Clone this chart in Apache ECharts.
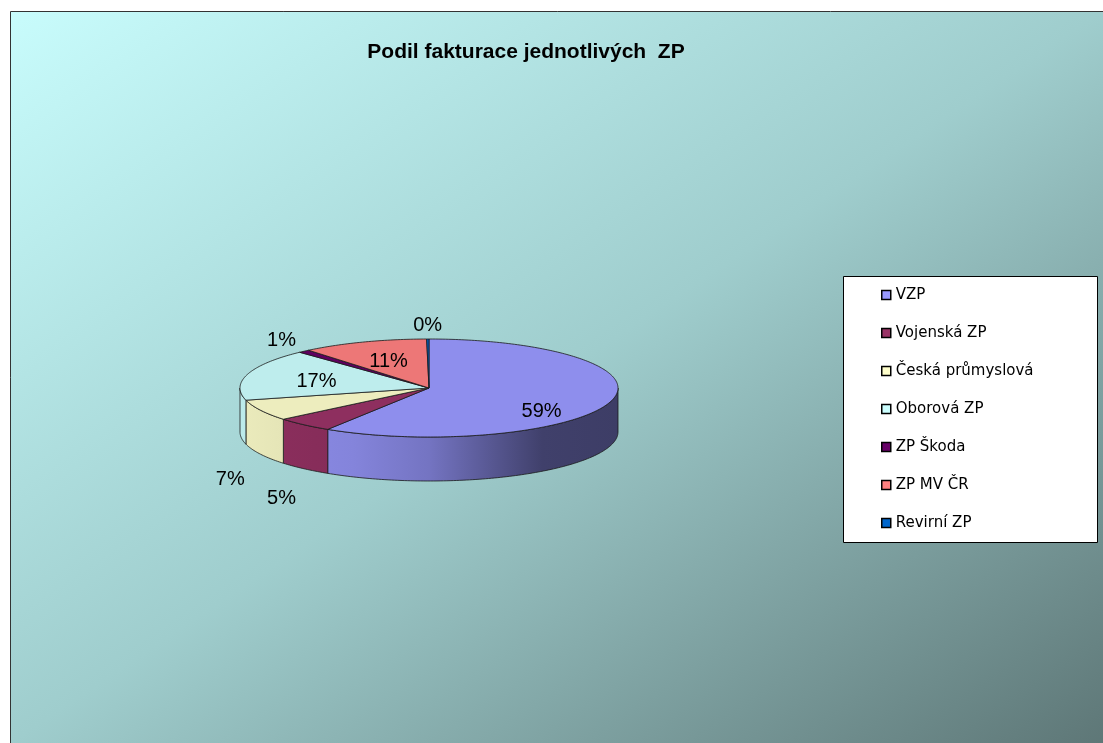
<!DOCTYPE html>
<html>
<head>
<meta charset="utf-8">
<title>Podil fakturace jednotlivých ZP</title>
<script src="https://cdn.jsdelivr.net/npm/echarts@6/dist/echarts.min.js"></script>
<style>
  html, body { margin: 0; padding: 0; background: #fff; }
  #chart { width: 1103px; height: 743px; }
</style>
</head>
<body>
<div id="chart"></div>
<script>
// podíly jednotlivých pojišťoven (%)
const categories = ["VZP", "Vojenská ZP", "Česká průmyslová", "Oborová ZP", "ZP Škoda", "ZP MV ČR", "Revirní ZP"];
const values = [59, 5, 7, 17, 1, 10.8, 0.2];
const colors = ["#9999ff", "#993366", "#ffffcc", "#ccffff", "#660066", "#ff8080", "#0066cc"];

const total = values.reduce((a, b) => a + b, 0);
const startAt = values.map((v, i) => values.slice(0, i).reduce((a, b) => a + b, 0));

// rozmery "3D" kolace v pixelech
const cx = 429, cy = 388, rx = 189, ry = 49, depth = 44;

function shade(hex, k) {
  const c = echarts.color.parse(hex);
  return "rgb(" + Math.round(c[0] * k) + "," + Math.round(c[1] * k) + "," + Math.round(c[2] * k) + ")";
}

// bod na elipse, uhel ve stupnich od 12 hodin po smeru hodin
function pt(deg, dy) {
  const r = deg * Math.PI / 180;
  return [cx + rx * Math.sin(r), cy - ry * Math.cos(r) + (dy || 0)];
}

function arc(a0, a1, dy) {
  const pts = [];
  const n = Math.max(2, Math.ceil(Math.abs(a1 - a0)));
  for (let k = 0; k <= n; k++) {
    pts.push(pt(a0 + (a1 - a0) * k / n, dy));
  }
  return pts;
}

// bocni stena - svetla vlevo, tmava vpravo
function sideFill(hex) {
  return {
    type: "linear", global: true,
    x: cx - rx, y: 0, x2: cx + rx, y2: 0,
    colorStops: [
      { offset: 0, color: shade(hex, 0.92) },
      { offset: 0.3, color: shade(hex, 0.86) },
      { offset: 0.5, color: shade(hex, 0.76) },
      { offset: 0.8, color: shade(hex, 0.42) },
      { offset: 1, color: shade(hex, 0.4) }
    ]
  };
}

function renderSlice(i) {
  return function (params, api) {
    const a0 = startAt[i] / total * 360;
    const a1 = (startAt[i] + values[i]) / total * 360;
    const children = [];

    // predni stena (jen spodni polovina elipsy je videt)
    const s0 = Math.max(a0, 90), s1 = Math.min(a1, 270);
    if (s1 > s0) {
      const pts = arc(s0, s1, 0).concat(arc(s1, s0, depth));
      children.push({
        type: "polygon", z2: 1,
        shape: { points: pts },
        style: { fill: sideFill(colors[i]), stroke: "#1a1a1a", lineWidth: 0.8 }
      });
    }

    // horni plocha
    children.push({
      type: "polygon", z2: 2,
      shape: { points: [[cx, cy]].concat(arc(a0, a1, 0)) },
      style: { fill: shade(colors[i], 0.93), stroke: "#1a1a1a", lineWidth: 0.8 }
    });

    // popisek s procenty
    const pct = Math.round(values[i] / total * 100);
    const m = (a0 + a1) / 2 * Math.PI / 180;
    let lx, ly;
    if (pct >= 10) {
      lx = cx + 0.62 * rx * Math.sin(m);
      ly = cy - 0.62 * ry * Math.cos(m) + (Math.cos(m) < 0 ? depth * 0.35 : 2);
    } else {
      lx = cx + (rx + 34) * Math.sin(m);
      ly = cy - (ry + 14) * Math.cos(m) + (Math.cos(m) < 0 ? depth + 19 : 0);
    }
    children.push({
      type: "text", z2: 3,
      x: lx, y: ly,
      style: {
        text: pct + "%",
        fill: "#000",
        font: "20px 'Liberation Sans', Arial, sans-serif",
        align: "center",
        verticalAlign: "middle"
      }
    });

    return { type: "group", children: children };
  };
}

const myChart = echarts.init(document.getElementById("chart"));

const option = {
  backgroundColor: "#fff",
  animation: false,
  color: colors,
  title: {
    text: "Podil fakturace jednotlivých  ZP",
    left: 526,
    textAlign: "center",
    top: 42,
    padding: 0,
    textStyle: {
      fontFamily: "'Liberation Sans', Arial, sans-serif",
      fontSize: 21,
      fontWeight: "bold",
      color: "#000"
    }
  },
  legend: {
    orient: "vertical",
    left: 881,
    top: 285,
    padding: 0,
    icon: "rect",
    itemWidth: 9,
    itemHeight: 9,
    itemGap: 18,
    selectedMode: false,
    itemStyle: { borderColor: "#000", borderWidth: 1.5 },
    textStyle: {
      fontFamily: "'DejaVu Sans', sans-serif",
      fontSize: 15,
      lineHeight: 20,
      color: "#000"
    },
    data: categories
  },
  graphic: [
    {
      // pozadi oblasti grafu
      type: "rect", z: -10, silent: true,
      shape: { x: 10.5, y: 11.5, width: 1200, height: 800 },
      style: {
        fill: {
          type: "linear", global: true,
          x: 10, y: 11, x2: 687, y2: 1022,
          colorStops: [
            { offset: 0, color: "#c8fcfc" },
            { offset: 0.5, color: "#9fcdcd" },
            { offset: 1, color: "#5e7777" }
          ]
        },
        stroke: "#333",
        lineWidth: 1
      }
    },
    {
      // ramecek legendy
      type: "rect", z: 1, silent: true,
      shape: { x: 843.5, y: 276.5, width: 254, height: 266 },
      style: { fill: "#fff", stroke: "#000", lineWidth: 1 }
    }
  ],
  series: categories.map((name, i) => ({
    type: "custom",
    name: name,
    coordinateSystem: "none",
    itemStyle: { color: colors[i] },
    renderItem: renderSlice(i),
    data: [[values[i]]]
  }))
};

myChart.setOption(option);
window.addEventListener("resize", () => {
  myChart.resize();
});
</script>
</body>
</html>
